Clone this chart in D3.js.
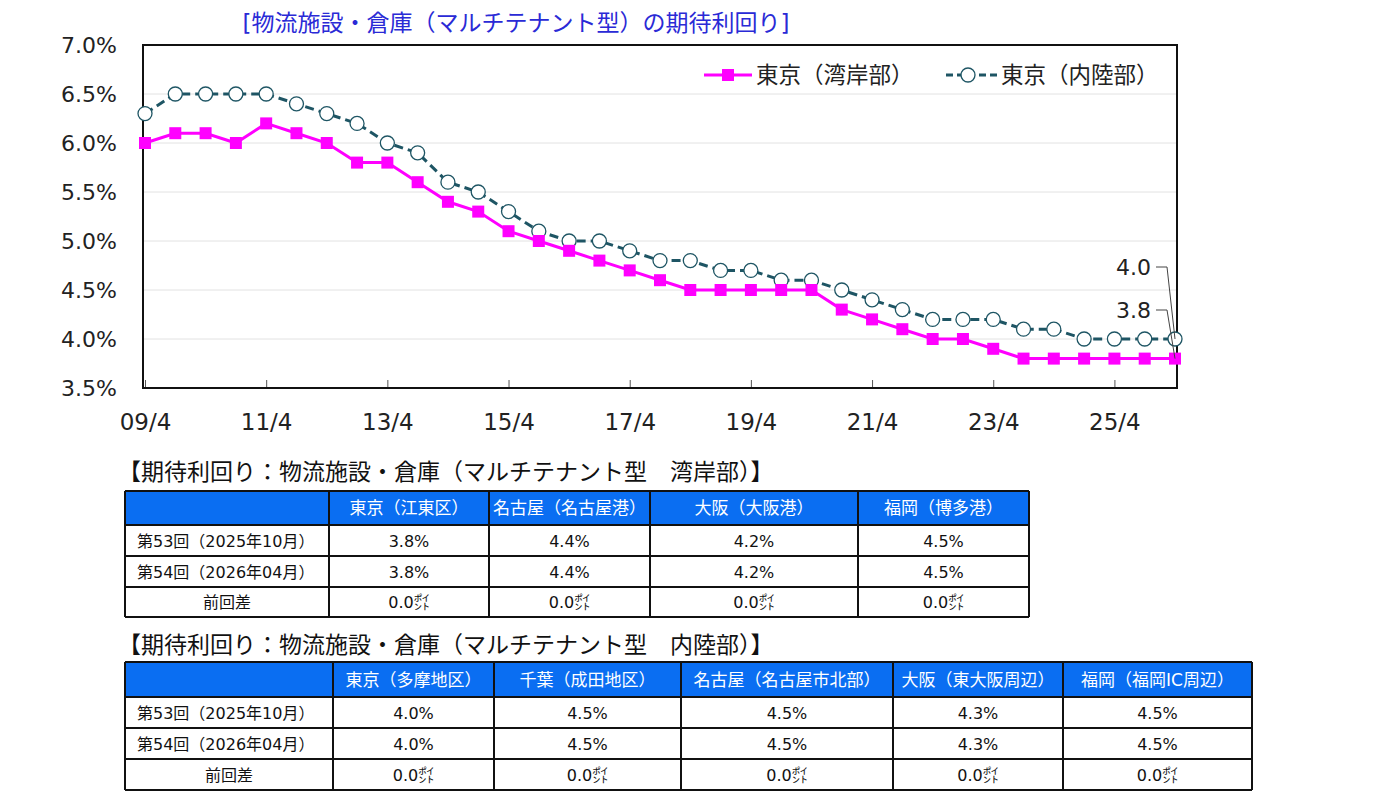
<!DOCTYPE html>
<html>
<head>
<meta charset="utf-8">
<script src="https://cdn.jsdelivr.net/npm/d3@7"></script>
<style>
  body { margin: 0; background: #fff; }
  text { font-family: "DejaVu Sans", "Noto Sans CJK JP", sans-serif; }
</style>
</head>
<body>
<div id="chart"></div>
<script>
// half-year periods 09/4 ... 26/4
var periods = ["09/4","09/10","10/4","10/10","11/4","11/10","12/4","12/10","13/4","13/10",
               "14/4","14/10","15/4","15/10","16/4","16/10","17/4","17/10","18/4","18/10",
               "19/4","19/10","20/4","20/10","21/4","21/10","22/4","22/10","23/4","23/10",
               "24/4","24/10","25/4","25/10","26/4"];
var tickLabels = ["09/4","11/4","13/4","15/4","17/4","19/4","21/4","23/4","25/4"];
var yTicks = [3.5, 4.0, 4.5, 5.0, 5.5, 6.0, 6.5, 7.0];

var wangan = [6.0,6.1,6.1,6.0,6.2,6.1,6.0,5.8,5.8,5.6,
              5.4,5.3,5.1,5.0,4.9,4.8,4.7,4.6,4.5,4.5,
              4.5,4.5,4.5,4.3,4.2,4.1,4.0,4.0,3.9,3.8,
              3.8,3.8,3.8,3.8,3.8];
var nairiku = [6.3,6.5,6.5,6.5,6.5,6.4,6.3,6.2,6.0,5.9,
               5.6,5.5,5.3,5.1,5.0,5.0,4.9,4.8,4.8,4.7,
               4.7,4.6,4.6,4.5,4.4,4.3,4.2,4.2,4.2,4.1,
               4.1,4.0,4.0,4.0,4.0];
var seriesNames = ["東京（湾岸部）", "東京（内陸部）"];

var chartTitle = "[物流施設・倉庫（マルチテナント型）の期待利回り]";

var table1Title = "【期待利回り：物流施設・倉庫（マルチテナント型　湾岸部）】";
var table1Cols = ["東京（江東区）","名古屋（名古屋港）","大阪（大阪港）","福岡（博多港）"];
var table1Rows = [
  ["第53回（2025年10月）","3.8%","4.4%","4.2%","4.5%"],
  ["第54回（2026年04月）","3.8%","4.4%","4.2%","4.5%"],
  ["前回差","0.0㌽","0.0㌽","0.0㌽","0.0㌽"]
];
var table2Title = "【期待利回り：物流施設・倉庫（マルチテナント型　内陸部）】";
var table2Cols = ["東京（多摩地区）","千葉（成田地区）","名古屋（名古屋市北部）","大阪（東大阪周辺）","福岡（福岡IC周辺）"];
var table2Rows = [
  ["第53回（2025年10月）","4.0%","4.5%","4.5%","4.3%","4.5%"],
  ["第54回（2026年04月）","4.0%","4.5%","4.5%","4.3%","4.5%"],
  ["前回差","0.0㌽","0.0㌽","0.0㌽","0.0㌽","0.0㌽"]
];

var width = 1378, height = 799;
var magenta = "#ff00ff", teal = "#1e5564";

var svg = d3.select("#chart").append("svg")
    .attr("width", width)
    .attr("height", height);

// ---- line chart ----
var plotL = 143, plotR = 1177, plotT = 45, plotB = 388;

var xScale = d3.scalePoint().domain(periods).range([145, 1175]);
var yScale = d3.scaleLinear().domain([3.5, 7.0]).range([plotB, plotT]);

svg.append("text")
    .attr("x", 516).attr("y", 31)
    .attr("text-anchor", "middle")
    .style("font-size", "23px")
    .style("fill", "#2a2ad6")
    .text(chartTitle);

// grid
svg.append("g").selectAll("line")
    .data(yTicks.slice(1, -1)).enter().append("line")
    .attr("x1", plotL).attr("x2", plotR)
    .attr("y1", function(d){ return yScale(d); })
    .attr("y2", function(d){ return yScale(d); })
    .style("stroke", "#e2e2e2").style("stroke-width", 1);

var yAxis = d3.axisLeft(yScale).tickValues(yTicks)
    .tickSize(0).tickPadding(26)
    .tickFormat(function(d){ return d.toFixed(1) + "%"; });
var gy = svg.append("g").attr("transform", "translate(" + plotL + ",0)").call(yAxis);
gy.select(".domain").remove();
gy.selectAll("text").style("font-size", "22px").style("fill", "#222")
    .style("font-family", "'DejaVu Sans', sans-serif");

var xAxis = d3.axisBottom(xScale).tickValues(tickLabels)
    .tickSize(-8).tickPadding(26);
var gx = svg.append("g").attr("transform", "translate(0," + plotB + ")").call(xAxis);
gx.select(".domain").remove();
gx.selectAll(".tick line").style("stroke", "#555");
gx.selectAll("text").style("font-size", "23px").style("fill", "#222")
    .style("font-family", "'DejaVu Sans', sans-serif");

// frame
svg.append("rect")
    .attr("x", plotL).attr("y", plotT)
    .attr("width", plotR - plotL).attr("height", plotB - plotT)
    .style("fill", "none").style("stroke", "#111").style("stroke-width", 2);

var line = d3.line()
    .x(function(d, i){ return xScale(periods[i]); })
    .y(function(d){ return yScale(d); });

svg.append("path").datum(nairiku)
    .attr("d", line)
    .style("fill", "none").style("stroke", teal)
    .style("stroke-width", 3).style("stroke-dasharray", "9,5");

svg.append("path").datum(wangan)
    .attr("d", line)
    .style("fill", "none").style("stroke", magenta)
    .style("stroke-width", 3);

svg.append("g").selectAll("circle")
    .data(nairiku).enter().append("circle")
    .attr("cx", function(d, i){ return xScale(periods[i]); })
    .attr("cy", function(d){ return yScale(d); })
    .attr("r", 7)
    .style("fill", "#fff").style("stroke", teal).style("stroke-width", 1.3);

svg.append("g").selectAll("rect")
    .data(wangan).enter().append("rect")
    .attr("x", function(d, i){ return xScale(periods[i]) - 6; })
    .attr("y", function(d){ return yScale(d) - 6; })
    .attr("width", 12).attr("height", 12)
    .style("fill", magenta);

// end labels with leader lines
var last = periods.length - 1;
var endLabels = [
  {v: nairiku[last], ly: 267},
  {v: wangan[last], ly: 310}
];
endLabels.forEach(function(l){
  svg.append("text")
      .attr("x", 1151).attr("y", l.ly + 8)
      .attr("text-anchor", "end")
      .style("font-size", "22px").style("fill", "#222")
      .style("font-family", "'DejaVu Sans', sans-serif")
      .text(l.v.toFixed(1));
  svg.append("polyline")
      .attr("points", [[1156, l.ly], [1167, l.ly], [xScale(periods[last]), yScale(l.v)]].join(" "))
      .style("fill", "none").style("stroke", "#444").style("stroke-width", 1);
});

// legend
var lg = svg.append("g");
lg.append("line").attr("x1", 704).attr("x2", 752).attr("y1", 75).attr("y2", 75)
    .style("stroke", magenta).style("stroke-width", 3);
lg.append("rect").attr("x", 722).attr("y", 69).attr("width", 12).attr("height", 12)
    .style("fill", magenta);
lg.append("text").attr("x", 756).attr("y", 83)
    .style("font-size", "22.5px").style("fill", "#222").text(seriesNames[0]);
lg.append("line").attr("x1", 946).attr("x2", 998).attr("y1", 75).attr("y2", 75)
    .style("stroke", teal).style("stroke-width", 3).style("stroke-dasharray", "7,4");
lg.append("circle").attr("cx", 968).attr("cy", 75).attr("r", 7)
    .style("fill", "#fff").style("stroke", teal).style("stroke-width", 1.3);
lg.append("text").attr("x", 1001).attr("y", 83)
    .style("font-size", "22.5px").style("fill", "#222").text(seriesNames[1]);

// ---- tables ----
function drawTable(title, titleY, cols, rows, colX, rowY) {
  svg.append("text")
      .attr("x", 118).attr("y", titleY)
      .style("font-size", "23px").style("fill", "#111")
      .text(title);

  var g = svg.append("g");
  // header fill
  g.append("rect")
      .attr("x", colX[0]).attr("y", rowY[0])
      .attr("width", colX[colX.length - 1] - colX[0])
      .attr("height", rowY[1] - rowY[0])
      .style("fill", "#0a6ef2");

  var header = [""].concat(cols);
  header.forEach(function(h, i){
    g.append("text")
        .attr("x", (colX[i] + colX[i + 1]) / 2)
        .attr("y", (rowY[0] + rowY[1]) / 2 + 6)
        .attr("text-anchor", "middle")
        .style("font-size", "17px").style("fill", "#fff")
        .text(h);
  });

  rows.forEach(function(r, ri){
    r.forEach(function(c, ci){
      var t = g.append("text")
          .attr("y", (rowY[ri + 1] + rowY[ri + 2]) / 2 + 6)
          .style("font-size", "16px").style("fill", "#111")
          .text(c);
      if (ci == 0 && ri < 2) {
        t.attr("x", colX[0] + 12);
      } else {
        t.attr("x", (colX[ci] + colX[ci + 1]) / 2).attr("text-anchor", "middle");
      }
    });
  });

  // grid lines
  rowY.forEach(function(y){
    g.append("line").attr("x1", colX[0]).attr("x2", colX[colX.length - 1])
        .attr("y1", y).attr("y2", y)
        .style("stroke", "#111").style("stroke-width", 2);
  });
  colX.forEach(function(x){
    g.append("line").attr("x1", x).attr("x2", x)
        .attr("y1", rowY[0]).attr("y2", rowY[rowY.length - 1])
        .style("stroke", "#111").style("stroke-width", 2);
  });
}

drawTable(table1Title, 480, table1Cols, table1Rows,
          [125, 329, 489, 650, 858, 1029], [491, 525, 556, 587, 617]);
drawTable(table2Title, 653, table2Cols, table2Rows,
          [125, 333, 494, 681, 893, 1063, 1252], [662, 697, 728, 759, 790]);
</script>
</body>
</html>
